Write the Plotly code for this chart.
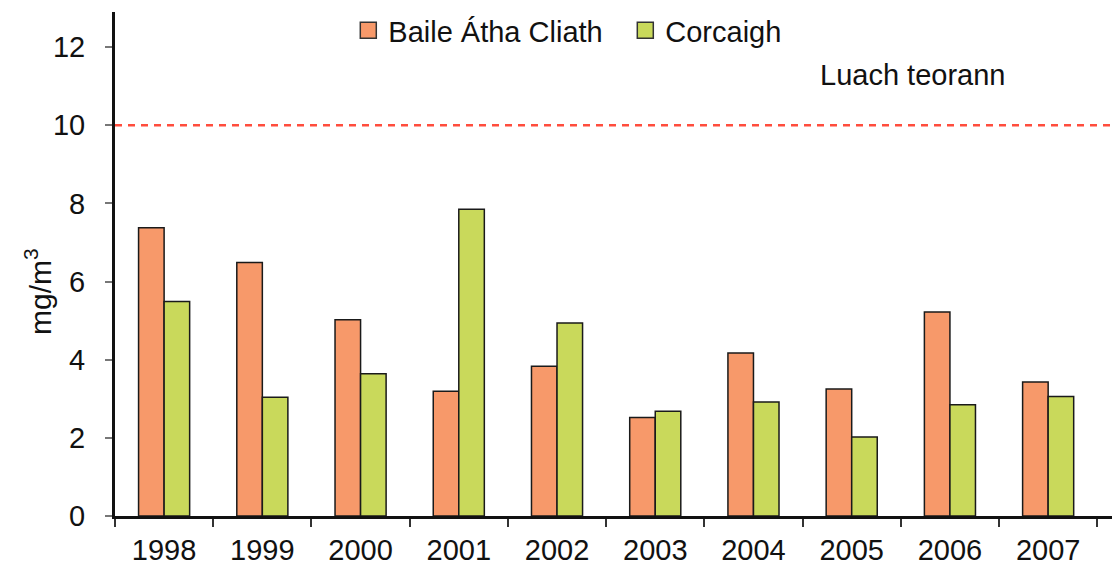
import plotly.graph_objects as go

years = ["1998", "1999", "2000", "2001", "2002", "2003", "2004", "2005", "2006", "2007"]
dublin = [7.38, 6.49, 5.02, 3.19, 3.83, 2.52, 4.17, 3.25, 5.22, 3.43]
cork = [5.49, 3.04, 3.64, 7.85, 4.94, 2.68, 2.92, 2.02, 2.85, 3.06]
limit_value = 10
series_names = ["Baile Átha Cliath", "Corcaigh"]
colors = ["#F7996A", "#C9D95B"]
FONT = "Liberation Sans, Arial, sans-serif"

fig = go.Figure()
for name, vals, col in zip(series_names, [dublin, cork], colors):
    fig.add_trace(go.Bar(
        x=years, y=vals, name=name, showlegend=False,
        marker=dict(color=col, line=dict(color="#1a1a1a", width=1.5)),
    ))
    # legend proxy
    fig.add_trace(go.Scatter(
        x=[None], y=[None], mode="markers", name=name,
        marker=dict(symbol="square", size=24, color=col, line=dict(color="#333", width=1.5)),
    ))

fig.add_shape(type="line", xref="paper", yref="y", x0=0, x1=1.003,
              y0=limit_value, y1=limit_value,
              line=dict(color="#FF4D3D", width=2.5, dash="7px,6px"))

fig.add_annotation(text="Luach teorann", xref="paper", yref="paper",
                   x=0.80, y=0.875, xanchor="center", yanchor="middle", showarrow=False,
                   font=dict(family=FONT, size=29, color="#111"))

# y-axis title (placed as rotated text, as in the original)
fig.add_annotation(text="mg/m<sup>3</sup>", xref="paper", yref="paper",
                   x=-0.077, y=0.445, xanchor="center", yanchor="middle",
                   textangle=-90, showarrow=False,
                   font=dict(family=FONT, size=30, color="#111"))

fig.update_layout(
    width=1115, height=569,
    margin=dict(l=115, r=3, t=12, b=53, autoexpand=False),
    paper_bgcolor="white", plot_bgcolor="white",
    barmode="group", bargap=0.48, bargroupgap=0,
    font=dict(family=FONT, size=29, color="#111"),
    legend=dict(orientation="h", x=0.234, y=1.014, xanchor="left", yanchor="top",
                font=dict(family=FONT, size=29, color="#111"),
                itemsizing="trace", tracegroupgap=0, bgcolor="rgba(0,0,0,0)",
                entrywidth=232),
    xaxis=dict(type="category", range=[-0.5, 9.65], showline=True, linecolor="#111",
               linewidth=3, ticks="outside", tickson="boundaries", ticklen=8,
               tickcolor="#333", tickwidth=1.5, showgrid=False, zeroline=False,
               automargin=False,
               tickfont=dict(family=FONT, size=29, color="#111"), ticklabelstandoff=6),
    yaxis=dict(range=[0, 12.9], tickvals=[0, 2, 4, 6, 8, 10, 12], showline=True,
               linecolor="#111", linewidth=3, ticks="outside", ticklen=7,
               tickcolor="#777", tickwidth=1.5, showgrid=False, zeroline=False,
               automargin=False,
               tickfont=dict(family=FONT, size=29, color="#111"), ticklabelstandoff=14),
)

fig.write_html("out.html", config={"displayModeBar": False},
               post_script="document.body.style.margin='0';")
